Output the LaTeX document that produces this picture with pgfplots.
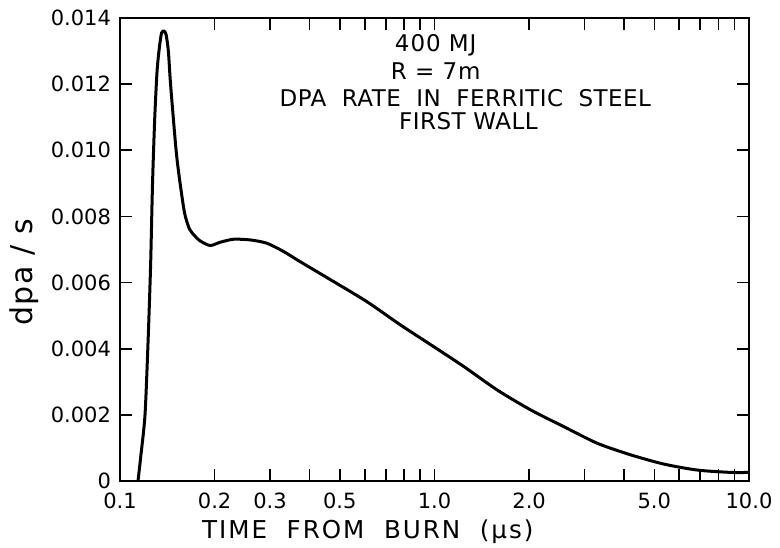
\documentclass[border=0pt]{standalone}
\usepackage{pgfplots}
\pgfplotsset{compat=1.18}
\usepackage{fontspec}
\setmainfont{DejaVu Sans}
\begin{document}
\begin{tikzpicture}
\begin{axis}[
  name=ax,
  scale only axis,
  width=314.5pt, height=231.5pt,
  xmode=log,
  xmin=0.1, xmax=10, ymin=0, ymax=0.014,
  axis line style={line width=1pt},
  xtick={0.1,0.2,0.3,0.5,1,2,5,10},
  xticklabels={0.1,0.2,0.3,0.5,1.0,2.0,5.0,10.0},
  minor xtick={0.4,0.6,0.7,0.8,0.9,3,4,6,7,8,9},
  ytick={0,0.002,0.004,0.006,0.008,0.010,0.012,0.014},
  yticklabels={0,0.002,0.004,0.006,0.008,0.010,0.012,0.014},
  scaled y ticks=false,
  tick align=inside,
  major tick length=6pt, minor tick length=6pt,
  tick style={line width=0.8pt,black},
  tick label style={font=\fontsize{10.5}{12}\selectfont},
  xticklabel style={yshift=-2.5pt},
  yticklabel style={xshift=-1pt},
  xlabel={TIME\ \ FROM\ \ BURN\ \ (μs)},
  xlabel style={font=\fontsize{12.3}{14}\selectfont\addfontfeature{LetterSpace=8}, at={(rel axis cs:0.394,0)}, anchor=center, yshift=-25.5pt},
  ylabel={dpa\ /\ s},
  ylabel style={font=\fontsize{15}{17}\selectfont\addfontfeature{LetterSpace=5}, at={(rel axis cs:-0.153,0.451)}, anchor=center},
]
\addplot[line width=1.5pt, black, smooth, tension=0.45] coordinates {
  (0.1141,0) (0.1166,0.0008) (0.1201,0.0020) (0.1228,0.0042) (0.1251,0.0065)
  (0.1269,0.0090) (0.1290,0.0110) (0.1312,0.0124) (0.1334,0.0131) (0.1356,0.01355)
  (0.1381,0.01360) (0.1401,0.01350) (0.1425,0.0130) (0.1448,0.0120) (0.1508,0.0100)
  (0.1553,0.0090) (0.1605,0.0081) (0.1663,0.00762) (0.1734,0.00740) (0.1798,0.00726)
  (0.1934,0.00712) (0.2083,0.00722) (0.2296,0.00731) (0.2594,0.00729) (0.2931,0.00719)
  (0.3311,0.00694) (0.3743,0.00663) (0.4779,0.00603) (0.6103,0.00542) (0.7793,0.00472)
  (0.9951,0.00406) (1.240,0.00346) (1.584,0.00275) (2.022,0.00215) (2.581,0.00164)
  (3.296,0.00114) (4.208,0.00079) (5.373,0.00051) (6.864,0.00033) (8.76,0.00026)
  (10,0.00026)
};
\node[font=\fontsize{11.5}{13}\selectfont\addfontfeature{LetterSpace=4}] at (rel axis cs:0.502,0.941) {400 MJ};
\node[font=\fontsize{11.5}{13}\selectfont\addfontfeature{LetterSpace=4}] at (rel axis cs:0.502,0.886) {R = 7m};
\node[font=\fontsize{11.5}{13}\selectfont\addfontfeature{LetterSpace=2}] at (rel axis cs:0.549,0.827) {DPA\ \ RATE\ \ IN\ \ FERRITIC\ \ STEEL};
\node[font=\fontsize{11.5}{13}\selectfont\addfontfeature{LetterSpace=2}] at (rel axis cs:0.554,0.778) {FIRST WALL};
\end{axis}
\pgfresetboundingbox
\path ([xshift=-60pt,yshift=-33pt]ax.south west) rectangle ([xshift=15.5pt,yshift=9pt]ax.north east);
\end{tikzpicture}
\end{document}
